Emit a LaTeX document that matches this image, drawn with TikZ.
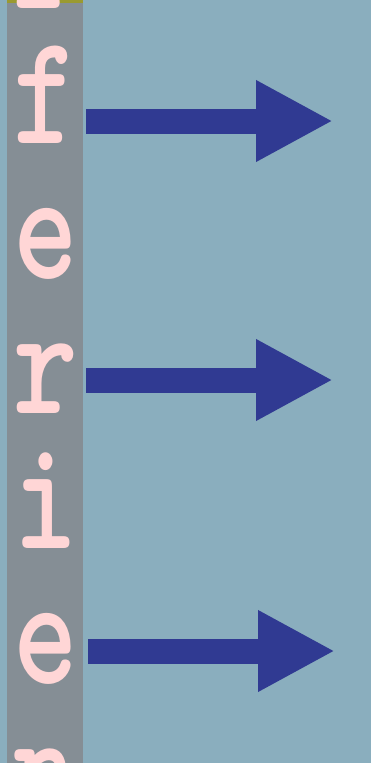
\documentclass[tikz,border=0pt]{standalone}
\usepackage{fontspec}
\usetikzlibrary{arrows.meta}
\definecolor{bgblue}{HTML}{8AAEBE}
\definecolor{stripgray}{HTML}{858E95}
\definecolor{olivebar}{HTML}{9A9A30}
\definecolor{arrowblue}{HTML}{303A92}
\definecolor{letterpink}{HTML}{FFD6D6}
\tikzset{
  letter/.style={anchor=base, text=letterpink, inner sep=0pt, xscale=0.78,
    font=\ttfamily\bfseries\fontsize{158}{158}\selectfont},
  fatarrow/.style={arrowblue, line width=25pt,
    -{Triangle[length=77pt, width=76pt]}}
}
\begin{document}
\begin{tikzpicture}[x=1pt, y=-1pt]
      \useasboundingbox (0,0) rectangle (371,763);
      \fill[bgblue] (0,0) rectangle (371,763);
      \fill[stripgray] (7,0) rectangle (83,763);
      \fill[olivebar] (7,0) rectangle (83,3);
      \clip (0,0) rectangle (371,763);
      % stacked letters of the vertical word
      \foreach[count=\i] \c in {r,f,e,r,i,e,n}{
        \node[letter] (l\i) at (46,{8+135*(\i-1)}) {\c};
      }
      % arrows
      \foreach[count=\i] \y/\xa in {121/86, 380/86, 651/88}{
        \coordinate (s\i) at (\xa,\y);
        \coordinate (t\i) at (\xa+247,\y);
        \draw[fatarrow] (s\i) -- (t\i);
      }
    \end{tikzpicture}
\end{document}
